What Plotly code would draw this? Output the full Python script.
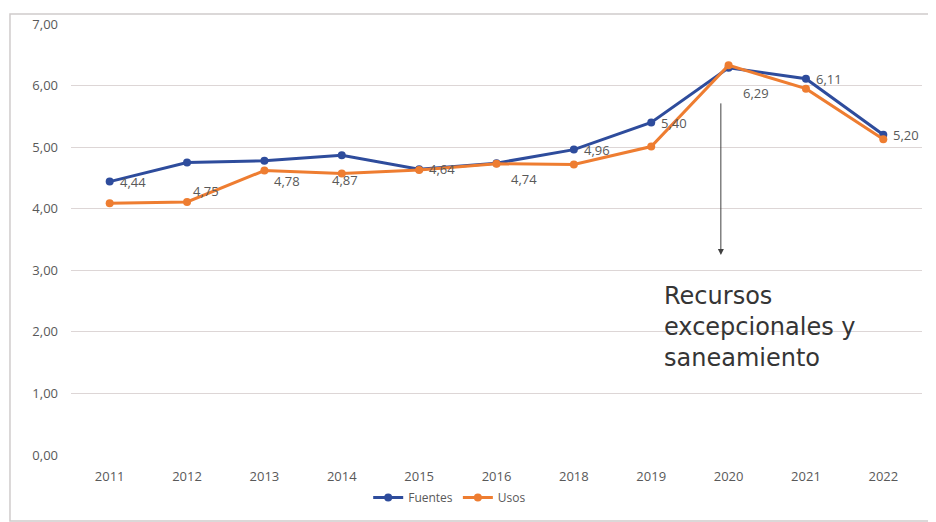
import plotly.graph_objects as go

years = ["2011", "2012", "2013", "2014", "2015", "2016", "2018", "2019", "2020", "2021", "2022"]
fuentes = [4.44, 4.75, 4.78, 4.87, 4.64, 4.74, 4.96, 5.40, 6.29, 6.11, 5.20]
usos = [4.09, 4.11, 4.62, 4.57, 4.63, 4.73, 4.72, 5.01, 6.33, 5.95, 5.13]
y_ticks = [0, 1, 2, 3, 4, 5, 6, 7]
y_ticklabels = ["0,00", "1,00", "2,00", "3,00", "4,00", "5,00", "6,00", "7,00"]

BLUE = "#2E4C9C"
ORANGE = "#EE7D31"
GRAY = "#595959"

# label offsets (pixels) for the data labels of Fuentes
label_dx = [8, 4, 8, -12, 8, 12, 8, 8, 12, 8, 8]
label_dy = [0, -28, -20, -25, 0, -16, 0, 0, -25, 0, 0]

fig = go.Figure()
fig.add_trace(go.Scatter(x=years, y=fuentes, name="Fuentes", mode="lines+markers",
                         line=dict(color=BLUE, width=3), marker=dict(size=8, color=BLUE)))
fig.add_trace(go.Scatter(x=years, y=usos, name="Usos", mode="lines+markers",
                         line=dict(color=ORANGE, width=3), marker=dict(size=8, color=ORANGE)))

for i, (yr, v) in enumerate(zip(years, fuentes)):
    fig.add_annotation(x=i, y=v, text=f"{v:.2f}".replace(".", ","), showarrow=False,
                       xanchor="left", yanchor="middle", xshift=label_dx[i], yshift=label_dy[i],
                       font=dict(family="Open Sans", size=13, color=GRAY))

# arrow
fig.add_annotation(x=7.9, y=3.25, ax=0, ay=-153, showarrow=True, arrowhead=2, arrowsize=1.2,
                   arrowwidth=1, arrowcolor="#404040", text="")
fig.add_annotation(xref="paper", yref="paper", x=0.695, y=0.405, xanchor="left", yanchor="top",
                   align="left", showarrow=False,
                   text="Recursos<br>excepcionales y<br>saneamiento",
                   font=dict(family="DejaVu Sans", size=24, color="#353535"))

fig.add_shape(type="rect", xref="paper", yref="paper", x0=-0.0717, x1=1.015, y0=-0.153, y1=1.023,
              line=dict(color="#D0CBCB", width=1.5), fillcolor="rgba(0,0,0,0)", layer="below")

fig.update_layout(
    width=928, height=514,
    margin=dict(l=63, r=14, t=16, b=67, autoexpand=False),
    paper_bgcolor="white", plot_bgcolor="white",
    font=dict(family="Open Sans", size=12, color=GRAY),
    showlegend=True,
    legend=dict(orientation="h", x=0.445, xanchor="center", y=-0.065, yanchor="top",
                font=dict(size=12, color=GRAY), itemwidth=30, tracegroupgap=0,
                bgcolor="rgba(0,0,0,0)"),
    xaxis=dict(type="category", showgrid=False, showline=False, ticks="", automargin=False,
               tickfont=dict(size=13, color=GRAY), range=[-0.5, 10.5], ticklabelstandoff=12),
    yaxis=dict(range=[0, 7], tickvals=y_ticks, ticktext=y_ticklabels, showgrid=True, automargin=False,
               gridcolor="#DDD6D6", gridwidth=1, zeroline=False, showline=False,
               tickfont=dict(size=13, color=GRAY), ticklabelstandoff=12),
)

fig.write_html("out.html")
